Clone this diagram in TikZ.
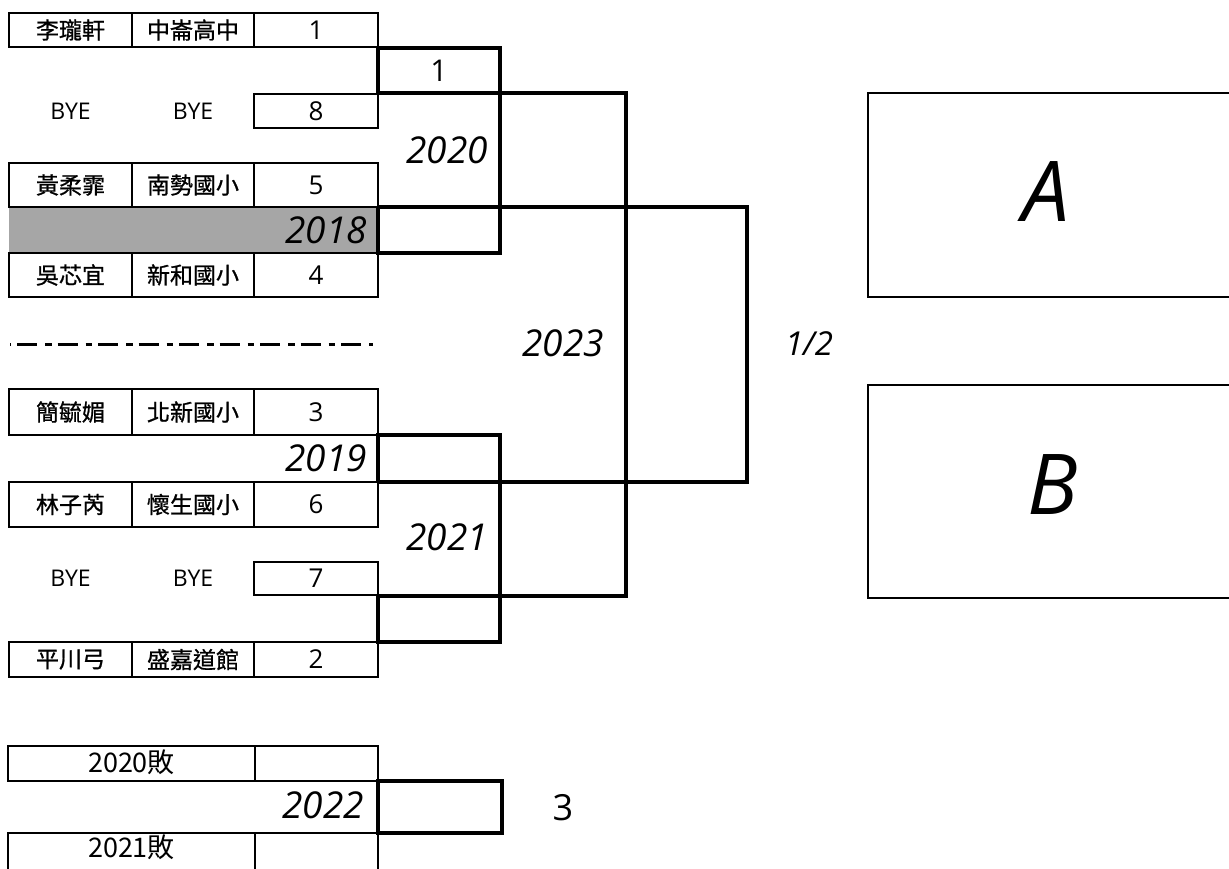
\documentclass[tikz,border=0pt]{standalone}
\usepackage{fontspec}
\setmainfont{Open Sans}
\newfontfamily\cjk{Noto Sans CJK TC}[FakeBold=0.9]
\newfontfamily\cjkr{Noto Sans CJK TC}
\begin{document}
\begin{tikzpicture}[x=1pt,y=-1pt,
  cellst/.style={draw=black, line width=2.2pt, inner sep=0pt, outer sep=0pt, font=\fontsize{26}{26}\selectfont},
  namest/.style={cellst, font=\cjk\fontsize{23}{23}\selectfont},
  lbl/.style={inner sep=0pt, font=\fontsize{23}{23}\selectfont},
  yr/.style={inner sep=0pt, font=\itshape\fontsize{37}{37}\selectfont},
  bk/.style={draw=black, line width=4.3pt, line join=miter},
  bigbox/.style={draw=black, line width=2.6pt}]
\useasboundingbox (0,0) rectangle (1229,868);
\newcommand\cellbox[7]{\node[#7, minimum width={(#4-#2)*1pt}, minimum height={(#5-#3)*1pt}] (#1) at ({(#2+#4)/2},{(#3+#5)/2}) {#6};}
% gray row
\fill[fill={rgb,255:red,166;green,166;blue,166}] (9,207) rectangle (378,253);
% upper half cells
\cellbox{n1}{9}{13}{132}{47}{李瓏軒}{namest}
\cellbox{s1}{132}{13}{254}{47}{中崙高中}{namest}
\cellbox{k1}{254}{13}{378}{47}{1}{cellst}
\node[lbl] (bye1a) at (70.5,111) {BYE};
\node[lbl] (bye1b) at (193,111) {BYE};
\cellbox{k8}{254}{94}{378}{128}{8}{cellst}
\cellbox{n5}{9}{163}{132}{207}{黃柔霏}{namest}
\cellbox{s5}{132}{163}{254}{207}{南勢國小}{namest}
\cellbox{k5}{254}{163}{378}{207}{5}{cellst}
\cellbox{n4}{9}{253}{132}{297}{吳芯宜}{namest}
\cellbox{s4}{132}{253}{254}{297}{新和國小}{namest}
\cellbox{k4}{254}{253}{378}{297}{4}{cellst}
% divider
\coordinate (dl) at (10,344);
\coordinate (dr) at (373,344);
\draw[line width=3pt, dash pattern=on 20pt off 8pt on 6.5pt off 6pt, dash phase=33.5pt] (dl) -- (dr);
% lower half cells
\cellbox{n3}{9}{389}{132}{435}{簡毓媚}{namest}
\cellbox{s3}{132}{389}{254}{435}{北新國小}{namest}
\cellbox{k3}{254}{389}{378}{435}{3}{cellst}
\cellbox{n6}{9}{482}{132}{527}{林子芮}{namest}
\cellbox{s6}{132}{482}{254}{527}{懷生國小}{namest}
\cellbox{k6}{254}{482}{378}{527}{6}{cellst}
\node[lbl] (bye2a) at (70.5,578.5) {BYE};
\node[lbl] (bye2b) at (193,578.5) {BYE};
\cellbox{k7}{254}{562}{378}{595}{7}{cellst}
\cellbox{n2}{9}{642}{132}{677}{平川弓}{namest}
\cellbox{s2}{132}{642}{254}{677}{盛嘉道館}{namest}
\cellbox{k2}{254}{642}{378}{677}{2}{cellst}
% third place cells
\cellbox{l20}{8}{746}{255}{781}{}{cellst}
\cellbox{l20b}{255}{746}{378}{781}{}{cellst}
\cellbox{l21}{8}{833}{255}{885}{}{cellst}
\cellbox{l21b}{255}{833}{378}{885}{}{cellst}
\node[inner sep=0pt, font=\cjkr\fontsize{27}{27}\selectfont] (l20t) at (131.5,762) {2020敗};
\node[inner sep=0pt, font=\cjkr\fontsize{27}{27}\selectfont] (l21t) at (131.5,847) {2021敗};
% bracket coordinates
\coordinate (a1) at (378,48); \coordinate (a2) at (500,48);
\coordinate (a3) at (500,253); \coordinate (a4) at (378,253);
\coordinate (a5) at (378,207); \coordinate (a6) at (378,93);
\coordinate (b1) at (378,435); \coordinate (b2) at (500,435);
\coordinate (b3) at (500,642); \coordinate (b4) at (378,642);
\coordinate (b5) at (378,596); \coordinate (b6) at (378,482);
\coordinate (q1) at (626,93); \coordinate (q2) at (626,596);
\coordinate (f1) at (747,207); \coordinate (f2) at (747,482);
% brackets
\draw[bk] (a6) -- (a1) -- (a2) -- (a3) -- (a4) -- (a5);
\draw[bk] (b6) -- (b1) -- (b2) -- (b3) -- (b4) -- (b5);
\draw[bk] (a6) -- (q1) -- (q2) -- (b5);
\draw[bk] (a5) -- (f1) -- (f2) -- (b6);
\node[bk, minimum width=124pt, minimum height=52pt, inner sep=0pt] (m2022) at (440,807) {};
% labels
\node[inner sep=0pt, font=\fontsize{30}{30}\selectfont] (w1) at (439,70.5) {1};
\node[yr] (y2020) at (447,150) {2020};
\node[yr, anchor=east] (y2018) at (367,230) {2018};
\node[yr, anchor=east] (y2019) at (367,458) {2019};
\node[yr] (y2021) at (447,537) {2021};
\node[yr] (y2023) at (563,343) {2023};
\node[inner sep=0pt, font=\itshape\fontsize{33}{33}\selectfont] (half) at (809,344) {1/2};
\node[yr, anchor=east] (y2022) at (364,805) {2022};
\node[inner sep=0pt, font=\fontsize{36}{36}\selectfont] (third) at (563,808) {3};
% result boxes
\node[bigbox, minimum width=380pt, minimum height=204pt, inner sep=0pt] (boxA) at (1058,195) {};
\node[bigbox, minimum width=380pt, minimum height=213pt, inner sep=0pt] (boxB) at (1058,491.5) {};
\node[inner sep=0pt, font=\itshape\fontsize{84}{84}\selectfont] (tA) at (1046,192) {A};
\node[inner sep=0pt, font=\itshape\fontsize{84}{84}\selectfont] (tB) at (1053,485) {B};
\end{tikzpicture}
\end{document}
